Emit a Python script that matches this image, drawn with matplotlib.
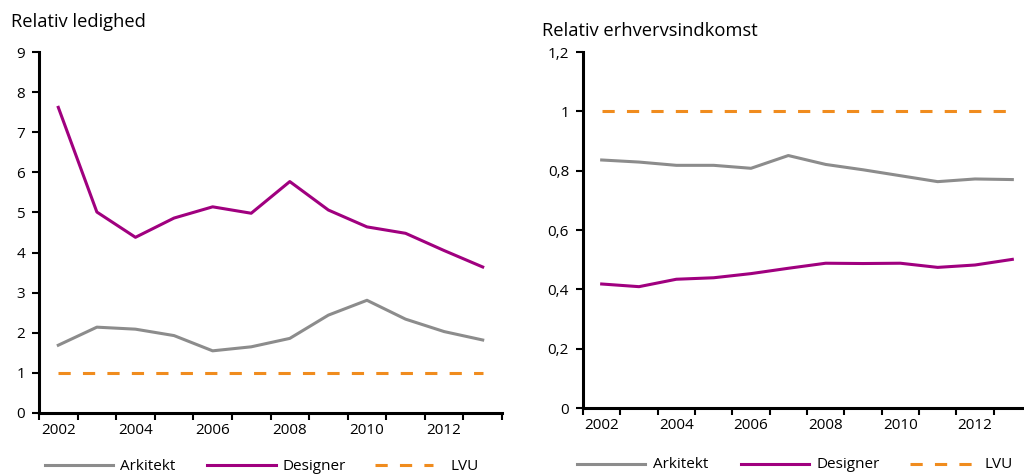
import numpy as np
import matplotlib
matplotlib.use('Agg')
from matplotlib import pyplot as plt
from matplotlib.lines import Line2D

years = list(range(2002, 2014))
tick_labels = [str(y) if y % 2 == 0 else '' for y in years]

# relativ ledighed
led_arkitekt = [1.69, 2.14, 2.09, 1.93, 1.55, 1.65, 1.86, 2.44, 2.81, 2.34, 2.03, 1.82]
led_designer = [7.62, 5.01, 4.38, 4.86, 5.14, 4.98, 5.77, 5.06, 4.64, 4.48, 4.05, 3.64]
led_lvu = [1] * 12

# relativ erhvervsindkomst
ind_arkitekt = [0.836, 0.829, 0.818, 0.818, 0.808, 0.851, 0.821, 0.803, 0.783, 0.763, 0.772, 0.770]
ind_designer = [0.418, 0.409, 0.434, 0.439, 0.453, 0.471, 0.488, 0.487, 0.488, 0.474, 0.482, 0.501]
ind_lvu = [1] * 12

GRAY = '#8c8c8c'
PURPLE = '#a0007f'
ORANGE = '#f08c1e'

plt.rcParams['font.family'] = ['Open Sans', 'DejaVu Sans']

W, H = 1024, 475
fig = plt.figure(figsize=(W / 100, H / 100), dpi=100)

def px_axes(x0, y0, x1, y1):
    # pixel box (left, top, right, bottom) -> figure fraction
    return fig.add_axes([x0 / W, 1 - y1 / H, (x1 - x0) / W, (y1 - y0) / H])

def style(ax, ylim, yticks, ylabels):
    x = np.arange(len(years))
    ax.set_xlim(-0.5, len(years) - 0.5)
    ax.set_ylim(*ylim)
    ax.set_yticks(yticks)
    ax.set_yticklabels(ylabels, fontsize=11)
    ax.set_xticks(np.arange(-0.5, len(years) + 0.5, 1), minor=False)
    ax.set_xticklabels([])
    ax.set_xticks(x, minor=True)
    ax.set_xticklabels(tick_labels, minor=True, fontsize=11)
    ax.tick_params(axis='x', which='minor', length=0, pad=7)
    ax.tick_params(axis='x', which='major', length=5, width=1.5, direction='out')
    ax.tick_params(axis='y', length=5, width=1.5, direction='out', pad=5)
    for s in ['top', 'right']:
        ax.spines[s].set_visible(False)
    for s in ['left', 'bottom']:
        ax.spines[s].set_linewidth(2.2)
    return x

ax1 = px_axes(39, 52, 502, 413)
x = style(ax1, (0, 9), range(0, 10), [str(v) for v in range(0, 10)])
ax1.plot(x, led_arkitekt, color=GRAY, lw=2.2)
ax1.plot(x, led_designer, color=PURPLE, lw=2.2)
ax1.plot(x, led_lvu, color=ORANGE, lw=2.2, dashes=(4, 4))
fig.text(11 / W, 1 - 22 / H, 'Relativ ledighed', fontsize=13.2, va='center', ha='left')

ax2 = px_axes(583, 52, 1031, 408)
yt = [0, 0.2, 0.4, 0.6, 0.8, 1.0, 1.2]
x = style(ax2, (0, 1.2), yt, ['0', '0,2', '0,4', '0,6', '0,8', '1', '1,2'])
ax2.plot(x, ind_arkitekt, color=GRAY, lw=2.2)
ax2.plot(x, ind_designer, color=PURPLE, lw=2.2)
ax2.plot(x, ind_lvu, color=ORANGE, lw=2.2, dashes=(4, 4))
fig.text(542 / W, 1 - 31 / H, 'Relativ erhvervsindkomst', fontsize=13.2, va='center', ha='left')

# legends drawn by hand, placed like the source
def legend_row(entries, ly):
    for (x0, x1, tx, label, color, dashed) in entries:
        ln = Line2D([x0 / W, x1 / W], [1 - ly / H, 1 - ly / H], color=color, lw=2.2,
                    transform=fig.transFigure)
        if dashed:
            ln.set_dashes((4, 4))
        fig.add_artist(ln)
        fig.text(tx / W, 1 - (ly + 1) / H, label, fontsize=11, va='center', ha='left')

legend_row([(45, 113, 120, 'Arkitekt', GRAY, False),
            (207, 276, 283, 'Designer', PURPLE, False),
            (375, 433, 450, 'LVU', ORANGE, True)], 465)
legend_row([(577, 645, 653, 'Arkitekt', GRAY, False),
            (741, 809, 817, 'Designer', PURPLE, False),
            (910, 973, 985, 'LVU', ORANGE, True)], 464)

fig.savefig('out.png', dpi=100)
